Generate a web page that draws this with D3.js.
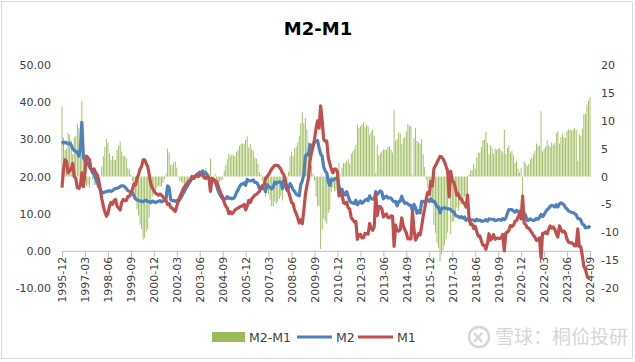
<!DOCTYPE html>
<html>
<head>
<meta charset="utf-8">
<script src="https://cdn.jsdelivr.net/npm/d3@7"></script>
<style>
  body { margin: 0; background: #fff; }
  text { font-family: "DejaVu Sans", sans-serif; }
</style>
</head>
<body>
<svg id="chart"></svg>
<script>
// monthly yoy growth (%), 1995-12 .. 2024-09
const m2 = [
  29.5,
  29.0, 29.2, 29.0, 28.8, 29.0, 28.5, 27.5, 27.0, 26.8, 26.5, 25.5, 27.5,
  34.5, 25.0, 24.3, 23.8, 23.5, 22.5, 22.0, 21.0, 20.5, 19.5, 18.5, 17.3,
  16.5, 15.8, 15.6, 15.8, 16.0, 16.0, 16.2, 16.0, 16.2, 16.5, 16.8, 16.8,
  17.0, 17.3, 17.5, 17.5, 17.2, 16.8, 16.2, 16.0, 15.8, 15.6, 14.8, 14.0,
  13.7, 13.5, 13.4, 13.3, 13.2, 13.5, 13.6, 13.3, 13.2, 13.0, 13.4, 13.2,
  13.0, 13.2, 13.3, 13.5, 13.2, 13.4, 13.6, 14.0, 17.5, 17.0, 13.8, 13.5,
  13.5, 13.3, 13.6, 13.4, 13.8, 14.5, 15.3, 16.0, 16.8, 17.5, 18.2, 18.8,
  20.0, 19.5, 20.0, 20.5, 20.8, 21.2, 20.7, 21.5, 20.7, 21.0, 20.4, 19.6,
  19.2, 19.4, 19.1, 19.0, 17.5, 16.2, 15.3, 14.5, 14.0, 14.0, 14.0, 14.6,
  14.1, 14.2, 14.0, 14.1, 14.6, 15.7, 16.3, 17.3, 17.9, 18.0, 18.3, 17.6,
  19.2, 18.8, 18.8, 18.9, 19.1, 18.4, 18.4, 17.9, 16.8, 17.1, 16.8, 16.9,
  15.9, 17.8, 17.3, 17.1, 16.7, 17.1, 18.5, 18.1, 18.5, 18.5, 18.5, 16.7,
  18.9, 17.5, 16.3, 16.9, 18.1, 17.4, 16.4, 16.0, 15.3, 15.0, 14.8, 17.8,
  18.8, 20.5, 25.5, 26.0, 25.7, 28.5, 28.4, 28.5, 29.3, 29.4, 29.7, 27.7,
  26.0, 25.5, 22.5, 21.5, 21.0, 18.5, 17.6, 19.2, 19.0, 19.3, 19.5, 19.7,
  17.2, 15.7, 16.6, 15.3, 15.1, 15.9, 14.7, 13.5, 13.0, 12.9, 12.7, 13.6,
  12.4, 13.0, 13.4, 12.8, 13.2, 13.6, 13.9, 13.5, 14.8, 14.1, 13.9, 13.8,
  15.9, 15.2, 15.7, 16.1, 15.8, 14.0, 14.5, 14.7, 14.2, 14.3, 14.2, 13.6,
  13.2, 13.3, 12.1, 13.2, 13.4, 14.7, 13.5, 12.8, 12.9, 12.6, 12.3, 12.2,
  10.8, 12.5, 11.6, 10.1, 10.8, 10.2, 13.3, 13.3, 13.1, 13.5, 13.7, 13.3,
  14.0, 13.3, 13.4, 12.8, 11.8, 11.8, 10.2, 11.4, 11.5, 11.6, 11.4, 11.3,
  11.3, 11.1, 10.6, 10.5, 9.6, 9.4, 9.2, 8.9, 9.2, 8.8, 9.1, 8.2,
  8.6, 8.8, 8.2, 8.3, 8.3, 8.0, 8.5, 8.2, 8.3, 8.0, 8.0, 8.1,
  8.4, 8.0, 8.6, 8.5, 8.5, 8.5, 8.1, 8.2, 8.4, 8.4, 8.2, 8.7,
  8.4, 8.8, 10.1, 11.1, 11.1, 11.1, 10.7, 10.4, 10.9, 10.5, 10.7, 10.1,
  9.4, 10.1, 9.4, 8.1, 8.3, 8.6, 8.3, 8.2, 8.3, 8.7, 8.5, 9.0,
  9.8, 9.2, 9.7, 10.5, 11.1, 11.4, 12.0, 12.2, 12.1, 11.8, 12.4, 11.8,
  12.6, 12.9, 12.7, 12.4, 11.6, 11.3, 10.7, 10.6, 10.3, 10.3, 10.0, 9.7,
  8.7, 8.7, 8.3, 7.2, 7.0, 6.2, 6.3, 6.3, 6.8
];

const m1 = [
  17.0,
  22.0, 24.5, 24.0, 21.0, 21.5, 22.0, 23.5, 20.0, 19.5, 17.0, 16.8, 17.5,
  21.0, 17.3, 21.0, 25.5, 25.0, 24.5, 22.0, 21.5, 22.0, 21.0, 20.5, 19.0,
  16.5, 14.0, 12.0, 10.5, 9.3, 10.0, 12.0, 13.0, 12.5, 13.5, 13.8, 12.0,
  11.5, 11.0, 13.0, 13.8, 13.5, 13.5, 14.6, 14.7, 15.5, 16.5, 18.0, 17.7,
  19.5, 20.5, 22.0, 22.7, 24.5, 24.5, 23.5, 22.7, 20.5, 18.0, 17.0, 16.2,
  15.5, 15.3, 15.0, 15.3, 15.0, 14.5, 14.0, 13.5, 12.5, 12.7, 11.7, 11.5,
  11.0, 10.6, 12.0, 13.5, 14.6, 15.5, 16.5, 17.3, 17.8, 18.3, 18.8, 19.1,
  20.0, 19.5, 20.0, 20.4, 20.0, 20.4, 20.5, 20.4, 19.6, 19.5, 20.0, 19.5,
  16.0, 19.5, 19.3, 18.5, 18.7, 17.5, 16.3, 15.2, 14.5, 13.0, 12.0, 11.5,
  10.0, 10.5, 10.0, 10.3, 11.0, 11.3, 11.5, 11.8, 12.0, 12.1, 12.5, 11.0,
  12.0, 13.6, 13.0, 14.0, 14.5, 15.0, 15.2, 15.6, 16.0, 16.8, 17.5, 17.7,
  19.5, 20.0, 20.5, 21.3, 22.0, 22.5, 23.0, 23.0, 23.0, 22.5, 22.0, 21.0,
  20.4, 18.9, 17.0, 16.0, 14.5, 13.0, 12.7, 11.0, 10.0, 8.9, 7.5, 8.3,
  7.3, 10.9, 15.0, 17.5, 19.5, 24.0, 26.4, 28.0, 30.0, 33.0, 35.0, 33.0,
  39.0, 35.0, 30.0, 29.5, 29.5, 25.0, 23.5, 22.0, 21.0, 22.0, 22.0, 21.2,
  14.8, 15.5, 15.0, 12.9, 12.7, 13.1, 11.6, 11.2, 8.9, 8.4, 7.8, 7.9,
  3.1, 4.3, 4.4, 3.5, 3.5, 4.7, 4.6, 4.5, 7.3, 6.1, 5.5, 6.5,
  15.3, 9.5, 11.9, 11.9, 11.3, 9.1, 9.7, 9.9, 8.9, 8.9, 9.4, 9.3,
  1.2, 6.9, 5.4, 5.3, 5.7, 8.9, 6.7, 5.7, 4.8, 3.2, 3.2, 3.2,
  10.6, 5.6, 2.9, 3.7, 4.7, 4.3, 6.6, 9.3, 11.4, 14.0, 15.7, 15.2,
  18.6, 17.4, 22.1, 22.9, 23.7, 24.6, 25.4, 25.3, 24.7, 23.9, 22.7, 21.4,
  14.5, 21.4, 18.8, 18.5, 17.0, 15.0, 15.3, 14.0, 14.0, 13.0, 12.7, 11.8,
  15.0, 8.5, 7.1, 7.2, 6.0, 6.6, 5.1, 3.9, 4.0, 2.7, 1.5, 1.5,
  0.4, 2.0, 4.6, 2.9, 3.4, 4.4, 3.1, 3.4, 3.4, 3.3, 3.5, 4.4,
  0.0, 4.8, 5.0, 5.5, 6.8, 6.5, 6.9, 8.0, 8.1, 9.1, 10.0, 8.6,
  14.7, 7.4, 7.1, 6.2, 6.1, 5.5, 4.9, 4.2, 3.7, 2.8, 3.0, 3.5,
  -1.9, 4.7, 4.7, 5.1, 4.6, 5.8, 6.7, 6.1, 6.4, 5.8, 4.6, 3.7,
  6.7, 5.8, 5.1, 5.3, 4.7, 3.1, 2.3, 2.2, 2.1, 1.9, 1.3, 1.3,
  5.9, 1.2, 1.1, -1.4, -4.2, -5.0, -6.6, -7.3, -7.4
];

// M2-M1 spread, plotted on the right axis
const gap = m2.map((v, i) => +(v - m1[i]).toFixed(1));

const fmtMonth = d3.timeFormat('%Y-%m');
const months = d3.timeMonth.range(new Date(1995, 11, 1), new Date(2024, 9, 1)).map(fmtMonth);

const xTicks = ['1995-12', '1997-03', '1998-06', '1999-09', '2000-12', '2002-03', '2003-06', '2004-09',
  '2005-12', '2007-03', '2008-06', '2009-09', '2010-12', '2012-03', '2013-06', '2014-09', '2015-12',
  '2017-03', '2018-06', '2019-09', '2020-12', '2022-03', '2023-06', '2024-09'];
const leftTicks = [-10, 0, 10, 20, 30, 40, 50];
const rightTicks = [-20, -15, -10, -5, 0, 5, 10, 15, 20];

const colors = { gap: '#9BBB59', m2: '#4F81BD', m1: '#C0504D' };

const width = 635, height = 362;

const svg = d3.select('#chart')
  .attr('width', width)
  .attr('height', height);

svg.append('rect')
  .attr('x', 1.5).attr('y', 1.5)
  .attr('width', width - 4).attr('height', height - 5)
  .attr('fill', '#fff')
  .attr('stroke', '#D9D9D9');

const x = d3.scalePoint().domain(months).range([62, 590]);
const yL = d3.scaleLinear().domain([-10, 50]).range([288, 65]);
const yR = d3.scaleLinear().domain([-20, 20]).range([288, 65]);

// title
svg.append('text')
  .attr('x', 318).attr('y', 35)
  .attr('text-anchor', 'middle')
  .style('font-size', '18px')
  .style('font-weight', 'bold')
  .attr('fill', '#000')
  .text('M2-M1');

// bars
svg.append('g')
  .selectAll('rect')
  .data(gap)
  .enter()
  .append('rect')
  .attr('x', (d, i) => x(months[i]) - 0.45)
  .attr('width', 0.9)
  .attr('y', d => yR(Math.max(0, d)))
  .attr('height', d => Math.abs(yR(d) - yR(0)))
  .attr('fill', colors.gap);

// x axis
const xAxis = svg.append('g')
  .attr('transform', `translate(0,${yL(0)})`)
  .call(d3.axisBottom(x).tickValues(xTicks).tickSize(6));
xAxis.select('.domain').attr('stroke', '#BFBFBF');
xAxis.selectAll('line').attr('stroke', '#BFBFBF');
xAxis.selectAll('text')
  .attr('transform', 'rotate(-90)')
  .attr('x', -6)
  .attr('y', 0)
  .attr('dy', '0.35em')
  .style('text-anchor', 'end')
  .style('font-size', '11px')
  .attr('fill', '#404040');

// left axis
const leftAxis = svg.append('g')
  .attr('transform', 'translate(62,0)')
  .call(d3.axisLeft(yL).tickValues(leftTicks).tickFormat(d3.format('.2f')).tickSize(0).tickPadding(11));
leftAxis.select('.domain').remove();
leftAxis.selectAll('text')
  .text(d => d.toFixed(2))
  .style('font-size', '11px')
  .attr('fill', '#404040');

// right axis
const rightAxis = svg.append('g')
  .attr('transform', 'translate(590,0)')
  .call(d3.axisRight(yR).tickValues(rightTicks).tickSize(0).tickPadding(11));
rightAxis.select('.domain').remove();
rightAxis.selectAll('text')
  .text(d => String(d))
  .style('font-size', '11px')
  .attr('fill', '#404040');

// lines
const line = d3.line()
  .x((d, i) => x(months[i]))
  .y(d => yL(d));

svg.append('path')
  .datum(m2)
  .attr('d', line)
  .attr('fill', 'none')
  .attr('stroke', colors.m2)
  .attr('stroke-width', 3.2)
  .attr('stroke-linejoin', 'round');

svg.append('path')
  .datum(m1)
  .attr('d', line)
  .attr('fill', 'none')
  .attr('stroke', colors.m1)
  .attr('stroke-width', 3.2)
  .attr('stroke-linejoin', 'round');

// legend
const legend = svg.append('g').attr('transform', 'translate(0,337)');
legend.append('rect')
  .attr('x', 212).attr('y', -5).attr('width', 33).attr('height', 10)
  .attr('fill', colors.gap);
legend.append('text').attr('x', 249).attr('y', 5).text('M2-M1');
legend.append('line')
  .attr('x1', 297).attr('x2', 332).attr('y1', 0).attr('y2', 0)
  .attr('stroke', colors.m2).attr('stroke-width', 3.2);
legend.append('text').attr('x', 336).attr('y', 5).text('M2');
legend.append('line')
  .attr('x1', 358).attr('x2', 393).attr('y1', 0).attr('y2', 0)
  .attr('stroke', colors.m1).attr('stroke-width', 3.2);
legend.append('text').attr('x', 397).attr('y', 5).text('M1');
legend.selectAll('text')
  .style('font-size', '12.5px')
  .attr('fill', '#404040');

// watermark
const mark = svg.append('g').attr('transform', 'translate(479,337)');
mark.append('circle')
  .attr('r', 10)
  .attr('fill', 'none')
  .attr('stroke', '#D6D6D6')
  .attr('stroke-width', 2.5);
mark.append('path')
  .attr('d', 'M-5,-4 L3,5 M3,-4 L-5,5')
  .attr('stroke', '#D6D6D6')
  .attr('stroke-width', 2.5)
  .attr('fill', 'none');
mark.append('text')
  .attr('x', 16).attr('y', 7)
  .style('font-family', '"Noto Sans CJK SC", sans-serif')
  .style('font-size', '19px')
  .attr('fill', '#D6D6D6')
  .text('雪球：桐佡投研');
</script>
</body>
</html>
